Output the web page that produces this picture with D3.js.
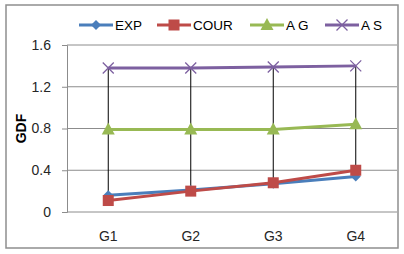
<!DOCTYPE html>
<html>
<head>
<meta charset="utf-8">
<script src="https://cdn.jsdelivr.net/npm/d3@7"></script>
<style>
  body { margin: 0; background: #fff; }
  text { font-family: "Liberation Sans", Arial, sans-serif; }
</style>
</head>
<body>
<div id="chart"></div>
<script>
// chart data
const categories = ["G1", "G2", "G3", "G4"];
const seriesNames = ["EXP", "COUR", "A G", "A S"];
const expValues = [0.16, 0.21, 0.27, 0.34];
const courValues = [0.11, 0.20, 0.28, 0.40];
const agValues = [0.79, 0.79, 0.79, 0.84];
const asValues = [1.38, 1.38, 1.39, 1.40];
const yTicks = [0, 0.4, 0.8, 1.2, 1.6];

const colors = ["#4A7EBB", "#BE4B48", "#98B954", "#7D60A0"];
const markers = ["diamond", "square", "triangle", "cross"];

const series = seriesNames.map((name, i) => ({
    name: name,
    values: [expValues, courValues, agValues, asValues][i],
    color: colors[i],
    marker: markers[i]
}));

const W = 404, H = 254;
const margin = { top: 45, right: 7, bottom: 42, left: 67 };
const width = W - margin.left - margin.right;
const height = H - margin.top - margin.bottom;

const svg = d3.select("#chart").append("svg")
    .attr("width", W)
    .attr("height", H);

// outer frame
svg.append("rect")
    .attr("x", 6).attr("y", 5)
    .attr("width", 392).attr("height", 243)
    .attr("fill", "#fff")
    .attr("stroke", "#8e8e8e")
    .attr("stroke-width", 1.5);

const g = svg.append("g")
    .attr("transform", `translate(${margin.left},${margin.top})`);

const x = d3.scaleBand().domain(categories).range([0, width]);
const y = d3.scaleLinear().domain([0, 1.6]).range([height, 0]);

// gridlines
g.selectAll(".grid")
    .data(yTicks)
    .enter().append("line")
    .attr("x1", 0).attr("x2", width)
    .attr("y1", d => y(d)).attr("y2", d => y(d))
    .attr("stroke", "#8c8c8c")
    .attr("stroke-width", 1);

// y axis
const yAxis = g.append("g")
    .call(d3.axisLeft(y).tickValues(yTicks).tickSize(5).tickPadding(11)
        .tickFormat(d => d === 0 ? "0" : d3.format(".1f")(d)));
yAxis.select(".domain").attr("stroke", "#8c8c8c");
yAxis.selectAll(".tick line").attr("stroke", "#8c8c8c");
yAxis.selectAll("text").attr("font-size", 14).attr("fill", "#262626")
    .style("font-family", "Liberation Sans, Arial, sans-serif");

// x axis
const xAxis = g.append("g")
    .attr("transform", `translate(0,${height})`)
    .call(d3.axisBottom(x).tickSize(0).tickPadding(19));
xAxis.select(".domain").remove();
xAxis.selectAll("text").attr("font-size", 14).attr("fill", "#262626")
    .style("font-family", "Liberation Sans, Arial, sans-serif");

// y title
svg.append("text")
    .attr("transform", `translate(26,${margin.top + y(0.8)}) rotate(-90)`)
    .attr("text-anchor", "middle")
    .attr("font-size", 14)
    .attr("font-weight", "bold")
    .attr("fill", "#000")
    .text("GDF");

const cx = d => x(d) + x.bandwidth() / 2;

// high-low lines
categories.forEach((c, i) => {
    const vals = series.map(s => s.values[i]);
    g.append("line")
        .attr("x1", cx(c)).attr("x2", cx(c))
        .attr("y1", y(d3.max(vals))).attr("y2", y(d3.min(vals)))
        .attr("stroke", "#000")
        .attr("stroke-width", 1);
});

const line = d3.line()
    .x((d, i) => cx(categories[i]))
    .y(d => y(d));

function drawMarker(sel, type, color, px, py) {
    if (type === "diamond") {
        sel.append("path")
            .attr("d", `M${px},${py - 5}L${px + 5},${py}L${px},${py + 5}L${px - 5},${py}Z`)
            .attr("fill", color);
    } else if (type === "square") {
        sel.append("rect")
            .attr("x", px - 5.5).attr("y", py - 5.5)
            .attr("width", 11).attr("height", 11)
            .attr("fill", color);
    } else if (type === "triangle") {
        sel.append("path")
            .attr("d", `M${px},${py - 7}L${px + 6.5},${py + 5}L${px - 6.5},${py + 5}Z`)
            .attr("fill", color);
    } else {
        sel.append("path")
            .attr("d", `M${px - 5.5},${py - 5.5}L${px + 5.5},${py + 5.5}M${px - 5.5},${py + 5.5}L${px + 5.5},${py - 5.5}`)
            .attr("stroke", color)
            .attr("stroke-width", 1.3)
            .attr("fill", "none");
    }
}

// series lines and markers
series.forEach(s => {
    g.append("path")
        .datum(s.values)
        .attr("d", line)
        .attr("fill", "none")
        .attr("stroke", s.color)
        .attr("stroke-width", 3);
    s.values.forEach((v, i) => drawMarker(g, s.marker, s.color, cx(categories[i]), y(v)));
});

// legend
const legendX = [79, 157, 250, 325];
const legendY = 25;
series.forEach((s, i) => {
    const lg = svg.append("g");
    lg.append("line")
        .attr("x1", legendX[i]).attr("x2", legendX[i] + 34)
        .attr("y1", legendY).attr("y2", legendY)
        .attr("stroke", s.color)
        .attr("stroke-width", 3);
    drawMarker(lg, s.marker, s.color, legendX[i] + 17, legendY);
    lg.append("text")
        .attr("x", legendX[i] + 36)
        .attr("y", legendY + 5)
        .attr("font-size", 13.5)
        .attr("fill", "#000")
        .text(s.name);
});
</script>
</body>
</html>
